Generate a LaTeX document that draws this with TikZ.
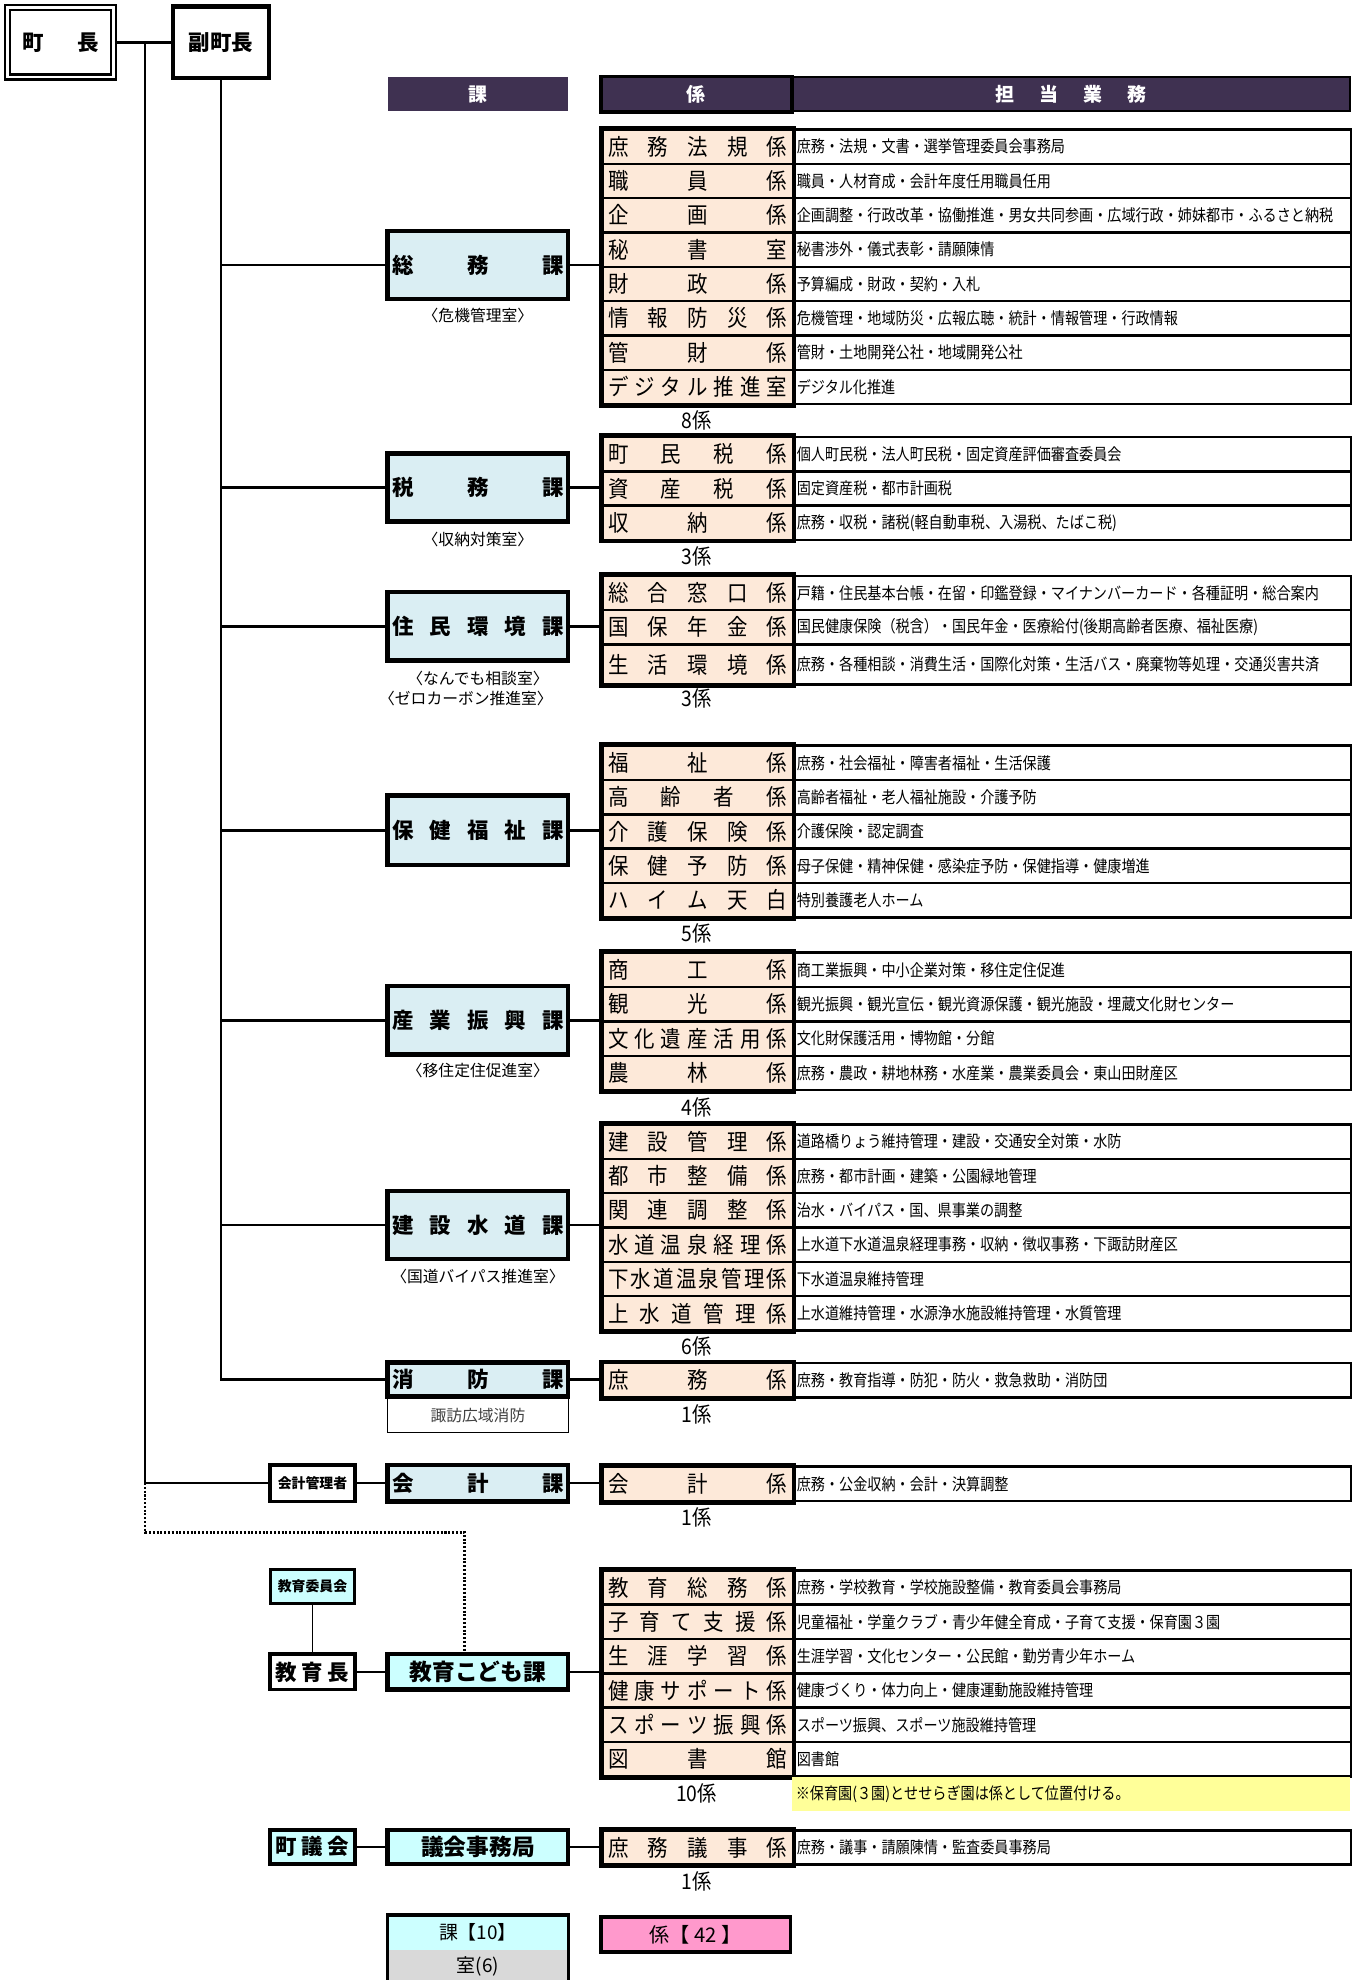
\documentclass[tikz,border=0pt]{standalone}
\usepackage{fontspec}
\setmainfont{Noto Sans CJK JP}
\newfontfamily\condf[FakeStretch=0.9]{Noto Sans CJK JP}
\newfontfamily\descf[FakeStretch=0.86]{Noto Sans CJK JP}
\definecolor{hdr}{HTML}{3F3151}
\definecolor{peach}{HTML}{FDE9D9}
\definecolor{kablue}{HTML}{DAEEF3}
\definecolor{cyanb}{HTML}{CCFFFF}
\definecolor{noteyel}{HTML}{FFFF99}
\definecolor{pinkb}{HTML}{FF99CC}
\definecolor{grayb}{HTML}{D9D9D9}
\makeatletter
\newcommand\spreadchars[1]{\def\sc@first{1}\@tfor\sc@c:=#1\do{\ifx\sc@first\@empty\hfill\fi\sc@c\let\sc@first\@empty}}
\makeatother
\newcommand\dist[2]{\hbox to #1{\spreadchars{#2}}}
\newcommand\krow[5]{%
  \node[kname, minimum height=#3pt] (#1) at (476,#2) {\dist{142pt}{#4}};
  \node[kdesc, minimum height=#3pt] (#1d) at (627,#2) {#5};}
\tikzset{
  conn/.style={line width=2pt},
  frame/.style={line width=3.5pt},
  kabox/.style={draw, line width=3.5pt, fill=kablue, minimum width=143pt, inner sep=0pt, font=\bfseries\fontsize{17}{17}\selectfont},
  kname/.style={draw, line width=2pt, fill=peach, minimum width=151pt, inner sep=0pt, anchor=north west, font=\condf\fontsize{18}{18}\selectfont},
  kdesc/.style={draw, line width=2pt, fill=white, text width=436pt, inner xsep=3pt, inner ysep=0pt, align=left, anchor=north west, font=\descf\fontsize{13}{13}\selectfont},
  cnt/.style={font=\condf\fontsize{17}{17}\selectfont, inner sep=0pt},
  subt/.style={font=\fontsize{12.5}{12.5}\selectfont, inner sep=0pt},
  hbox/.style={fill=hdr, text=white, inner sep=0pt, font=\bfseries\fontsize{15}{15}\selectfont},
  leftbox/.style={draw, line width=3pt, minimum width=67pt, inner sep=0pt},
}
\begin{document}
\begin{tikzpicture}[x=1pt,y=-1pt]
\useasboundingbox (0,0) rectangle (1078,1568);

% top
\node[draw, double, double distance=2pt, line width=1.8pt, minimum width=84pt, minimum height=55pt, inner sep=0pt, font=\bfseries\fontsize{17}{17}\selectfont] (chou) at (48,33.5) {\dist{60pt}{町長}};
\node[draw, line width=3.5pt, minimum width=76pt, minimum height=57pt, inner sep=0pt, font=\bfseries\fontsize{17}{17}\selectfont] (fuku) at (175,33.5) {副町長};
\coordinate (jA) at (115,33.5);

% headers
\node[hbox, minimum width=143pt, minimum height=27pt] (hka) at (378.5,74.5) {課};
\node[hbox, draw=black, line width=2pt, minimum width=442pt, minimum height=27pt] (hgyo) at (848,74.5) {\dist{120pt}{担当業務}};
\node[hbox, draw=black, line width=3pt, minimum width=151pt, minimum height=28pt] (hkak) at (551.5,74.5) {係};

% group 1
\krow{a1}{101.5}{27.2}{庶務法規係}{庶務・法規・文書・選挙管理委員会事務局}
\krow{a2}{128.7}{27.2}{職員係}{職員・人材育成・会計年度任用職員任用}
\krow{a3}{155.9}{27.2}{企画係}{企画調整・行政改革・協働推進・男女共同参画・広域行政・姉妹都市・ふるさと納税}
\krow{a4}{183.1}{27.2}{秘書室}{秘書渉外・儀式表彰・請願陳情}
\krow{a5}{210.3}{27.2}{財政係}{予算編成・財政・契約・入札}
\krow{a6}{237.5}{27.2}{情報防災係}{危機管理・地域防災・広報広聴・統計・情報管理・行政情報}
\krow{a7}{264.7}{27.2}{管財係}{管財・土地開発公社・地域開発公社}
\krow{a8}{291.9}{27.2}{デジタル推進室}{デジタル化推進}
\draw[frame] (a1.north west) rectangle (a8.south east);
\node[cnt] (n1) at (551.5,333) {8係};

% group 2
\krow{b1}{345}{27.2}{町民税係}{個人町民税・法人町民税・固定資産評価審査委員会}
\krow{b2}{372.2}{27.2}{資産税係}{固定資産税・都市計画税}
\krow{b3}{399.4}{27.2}{収納係}{庶務・収税・諸税(軽自動車税、入湯税、たばこ税)}
\draw[frame] (b1.north west) rectangle (b3.south east);
\node[cnt] (n2) at (551.5,441) {3係};

% group 3
\krow{c1}{455}{27}{総合窓口係}{戸籍・住民基本台帳・在留・印鑑登録・マイナンバーカード・各種証明・総合案内}
\krow{c2}{482}{27.5}{国保年金係}{国民健康保険（税含）・国民年金・医療給付(後期高齢者医療、福祉医療)}
\krow{c3}{509.5}{31.5}{生活環境係}{庶務・各種相談・消費生活・国際化対策・生活バス・廃棄物等処理・交通災害共済}
\draw[frame] (c1.north west) rectangle (c3.south east);
\node[cnt] (n3) at (551.5,553) {3係};

% group 4
\krow{d1}{589.5}{27.2}{福祉係}{庶務・社会福祉・障害者福祉・生活保護}
\krow{d2}{616.7}{27.2}{高齢者係}{高齢者福祉・老人福祉施設・介護予防}
\krow{d3}{643.9}{27.2}{介護保険係}{介護保険・認定調査}
\krow{d4}{671.1}{27.2}{保健予防係}{母子保健・精神保健・感染症予防・保健指導・健康増進}
\krow{d5}{698.3}{27.2}{ハイム天白}{特別養護老人ホーム}
\draw[frame] (d1.north west) rectangle (d5.south east);
\node[cnt] (n4) at (551.5,739) {5係};

% group 5
\krow{e1}{753.5}{27.2}{商工係}{商工業振興・中小企業対策・移住定住促進}
\krow{e2}{780.7}{27.2}{観光係}{観光振興・観光宣伝・観光資源保護・観光施設・埋蔵文化財センター}
\krow{e3}{807.9}{27.2}{文化遺産活用係}{文化財保護活用・博物館・分館}
\krow{e4}{835.1}{27.2}{農林係}{庶務・農政・耕地林務・水産業・農業委員会・東山田財産区}
\draw[frame] (e1.north west) rectangle (e4.south east);
\node[cnt] (n5) at (551.5,877) {4係};

% group 6
\krow{f1}{889.5}{27.2}{建設管理係}{道路橋りょう維持管理・建設・交通安全対策・水防}
\krow{f2}{916.7}{27.2}{都市整備係}{庶務・都市計画・建築・公園緑地管理}
\krow{f3}{943.9}{27.2}{関連調整係}{治水・バイパス・国、県事業の調整}
\krow{f4}{971.1}{27.2}{水道温泉経理係}{上水道下水道温泉経理事務・収納・徴収事務・下諏訪財産区}
\krow{f5}{998.3}{27.2}{下水道温泉管理係}{下水道温泉維持管理}
\krow{f6}{1025.5}{27.2}{上水道管理係}{上水道維持管理・水源浄水施設維持管理・水質管理}
\draw[frame] (f1.north west) rectangle (f6.south east);
\node[cnt] (n6) at (551.5,1066) {6係};

% group 7
\krow{g1}{1078.5}{27.2}{庶務係}{庶務・教育指導・防犯・防火・救急救助・消防団}
\draw[frame] (g1.north west) rectangle (g1.south east);
\node[cnt] (n7) at (551.5,1120) {1係};

% group 8
\krow{h1}{1160.5}{27.2}{会計係}{庶務・公金収納・会計・決算調整}
\draw[frame] (h1.north west) rectangle (h1.south east);
\node[cnt] (n8) at (551.5,1202) {1係};

% group 9
\krow{i1}{1242.5}{27.2}{教育総務係}{庶務・学校教育・学校施設整備・教育委員会事務局}
\krow{i2}{1269.7}{27.2}{子育て支援係}{児童福祉・学童クラブ・青少年健全育成・子育て支援・保育園３園}
\krow{i3}{1296.9}{27.2}{生涯学習係}{生涯学習・文化センター・公民館・勤労青少年ホーム}
\krow{i4}{1324.1}{27.2}{健康サポート係}{健康づくり・体力向上・健康運動施設維持管理}
\krow{i5}{1351.3}{27.2}{スポーツ振興係}{スポーツ振興、スポーツ施設維持管理}
\krow{i6}{1378.5}{27.2}{図書館}{図書館}
\draw[frame] (i1.north west) rectangle (i6.south east);
\node[cnt] (n9) at (551.5,1420) {10係};
\node[fill=noteyel, anchor=north west, minimum height=27pt, text width=436pt, inner xsep=3pt, inner ysep=0pt, align=left, font=\descf\fontsize{13}{13}\selectfont] (note) at (627,1407) {※保育園(３園)とせせらぎ園は係として位置付ける。};

% group 10
\krow{j1}{1448.5}{27.2}{庶務議事係}{庶務・議事・請願陳情・監査委員事務局}
\draw[frame] (j1.north west) rectangle (j1.south east);
\node[cnt] (n10) at (551.5,1490) {1係};

% ka boxes
\node[kabox, minimum height=54pt] (soumu) at (378.5,210) {\dist{136pt}{総務課}};
\node[subt] (soumus) at (378.5,250) {〈危機管理室〉};
\node[kabox, minimum height=54pt] (zeimu) at (378.5,386) {\dist{136pt}{税務課}};
\node[subt] (zeimus) at (378.5,427) {〈収納対策室〉};
\node[kabox, minimum height=54pt] (jumin) at (378.5,496) {\dist{136pt}{住民環境課}};
\node[subt] (jumins1) at (378.5,537) {〈なんでも相談室〉};
\node[subt] (jumins2) at (369,553) {〈ゼロカーボン推進室〉};
\node[kabox, minimum height=55pt] (hoken) at (378.5,657.5) {\dist{136pt}{保健福祉課}};
\node[kabox, minimum height=54pt] (sangyo) at (378.5,808) {\dist{136pt}{産業振興課}};
\node[subt] (sangyos) at (378.5,848) {〈移住定住促進室〉};
\node[kabox, minimum height=54pt] (kensetsu) at (378.5,970) {\dist{136pt}{建設水道課}};
\node[subt] (kensetsus) at (378.5,1011) {〈国道バイパス推進室〉};
\node[kabox, minimum height=27pt] (shobo) at (378.5,1092.5) {\dist{136pt}{消防課}};
\node[draw, line width=0.8pt, minimum width=143pt, minimum height=27pt, inner sep=0pt, anchor=north, text=black!75, font=\fontsize{12.5}{12.5}\selectfont] (suwa) at (378.5,1107) {諏訪広域消防};
\node[kabox, minimum height=29pt] (kaikeika) at (378.5,1174.5) {\dist{136pt}{会計課}};
\node[kabox, fill=cyanb, minimum height=28pt, font=\bfseries\fontsize{18}{18}\selectfont] (kodomo) at (378.5,1324) {教育こども課};
\node[kabox, fill=cyanb, minimum height=27pt, font=\bfseries\fontsize{18}{18}\selectfont] (gjimu) at (378.5,1462.5) {議会事務局};

% left boxes
\node[leftbox, fill=white, minimum height=29pt, font=\bfseries\fontsize{11}{11}\selectfont] (kaikeimgr) at (247.5,1174.5) {会計管理者};
\node[leftbox, fill=cyanb, line width=2.5pt, minimum height=27pt, font=\bfseries\fontsize{11}{11}\selectfont] (iinkai) at (247.5,1256.5) {教育委員会};
\node[leftbox, fill=white, minimum height=28pt, font=\bfseries\fontsize{17}{17}\selectfont] (kyoikucho) at (247.5,1324) {\dist{58pt}{教育長}};
\node[leftbox, fill=cyanb, minimum height=27pt, font=\bfseries\fontsize{17}{17}\selectfont] (gikai) at (247.5,1462.5) {\dist{58pt}{町議会}};

% summary
\node[fill=cyanb, minimum width=143pt, minimum height=27pt, inner sep=0pt, font=\fontsize{15}{15}\selectfont] (kasum) at (378.5,1530.5) {課【10】};
\node[fill=grayb, minimum width=143pt, minimum height=26pt, inner sep=0pt, anchor=north, font=\fontsize{15}{15}\selectfont] (shitsum) at (kasum.south) {室(6)};
\draw[line width=3pt] (kasum.south west) -- (kasum.north west) -- (kasum.north east) -- (kasum.south east);
\draw[line width=3pt] (shitsum.north west) -- (shitsum.south west) (shitsum.north east) -- (shitsum.south east);
\node[draw, line width=3pt, fill=pinkb, minimum width=150pt, minimum height=28pt, inner sep=0pt, font=\fontsize{16}{16}\selectfont] (kakarisum) at (551,1532) {係【 42 】};

% connectors
\draw[conn] (chou.east) -- (fuku.west);
\draw[conn] (jA) |- (kaikeimgr.west);
\coordinate (jB) at (jA |- kaikeimgr.west);
\draw[line width=2pt, dash pattern=on 1.6pt off 1.4pt] (jB) -- ++(0,39) -| ([xshift=-10.5pt]kodomo.north);
\foreach \k in {soumu,zeimu,jumin,hoken,sangyo,kensetsu,shobo}
  \draw[conn] (fuku.south) |- (\k.west);
\draw[conn] (soumu.east) -- (soumu.east -| a1.west);
\draw[conn] (zeimu.east) -- (zeimu.east -| b1.west);
\draw[conn] (jumin.east) -- (jumin.east -| c1.west);
\draw[conn] (hoken.east) -- (hoken.east -| d1.west);
\draw[conn] (sangyo.east) -- (sangyo.east -| e1.west);
\draw[conn] (kensetsu.east) -- (kensetsu.east -| f1.west);
\draw[conn] (shobo.east) -- (shobo.east -| g1.west);
\draw[conn] (kaikeimgr.east) -- (kaikeika.west);
\draw[conn] (kaikeika.east) -- (kaikeika.east -| h1.west);
\draw[line width=1pt] (iinkai.south) -- (kyoikucho.north);
\draw[conn] (kyoikucho.east) -- (kodomo.west);
\draw[conn] (kodomo.east) -- (kodomo.east -| i1.west);
\draw[conn] (gikai.east) -- (gjimu.west);
\draw[conn] (gjimu.east) -- (gjimu.east -| j1.west);
\end{tikzpicture}
\end{document}
